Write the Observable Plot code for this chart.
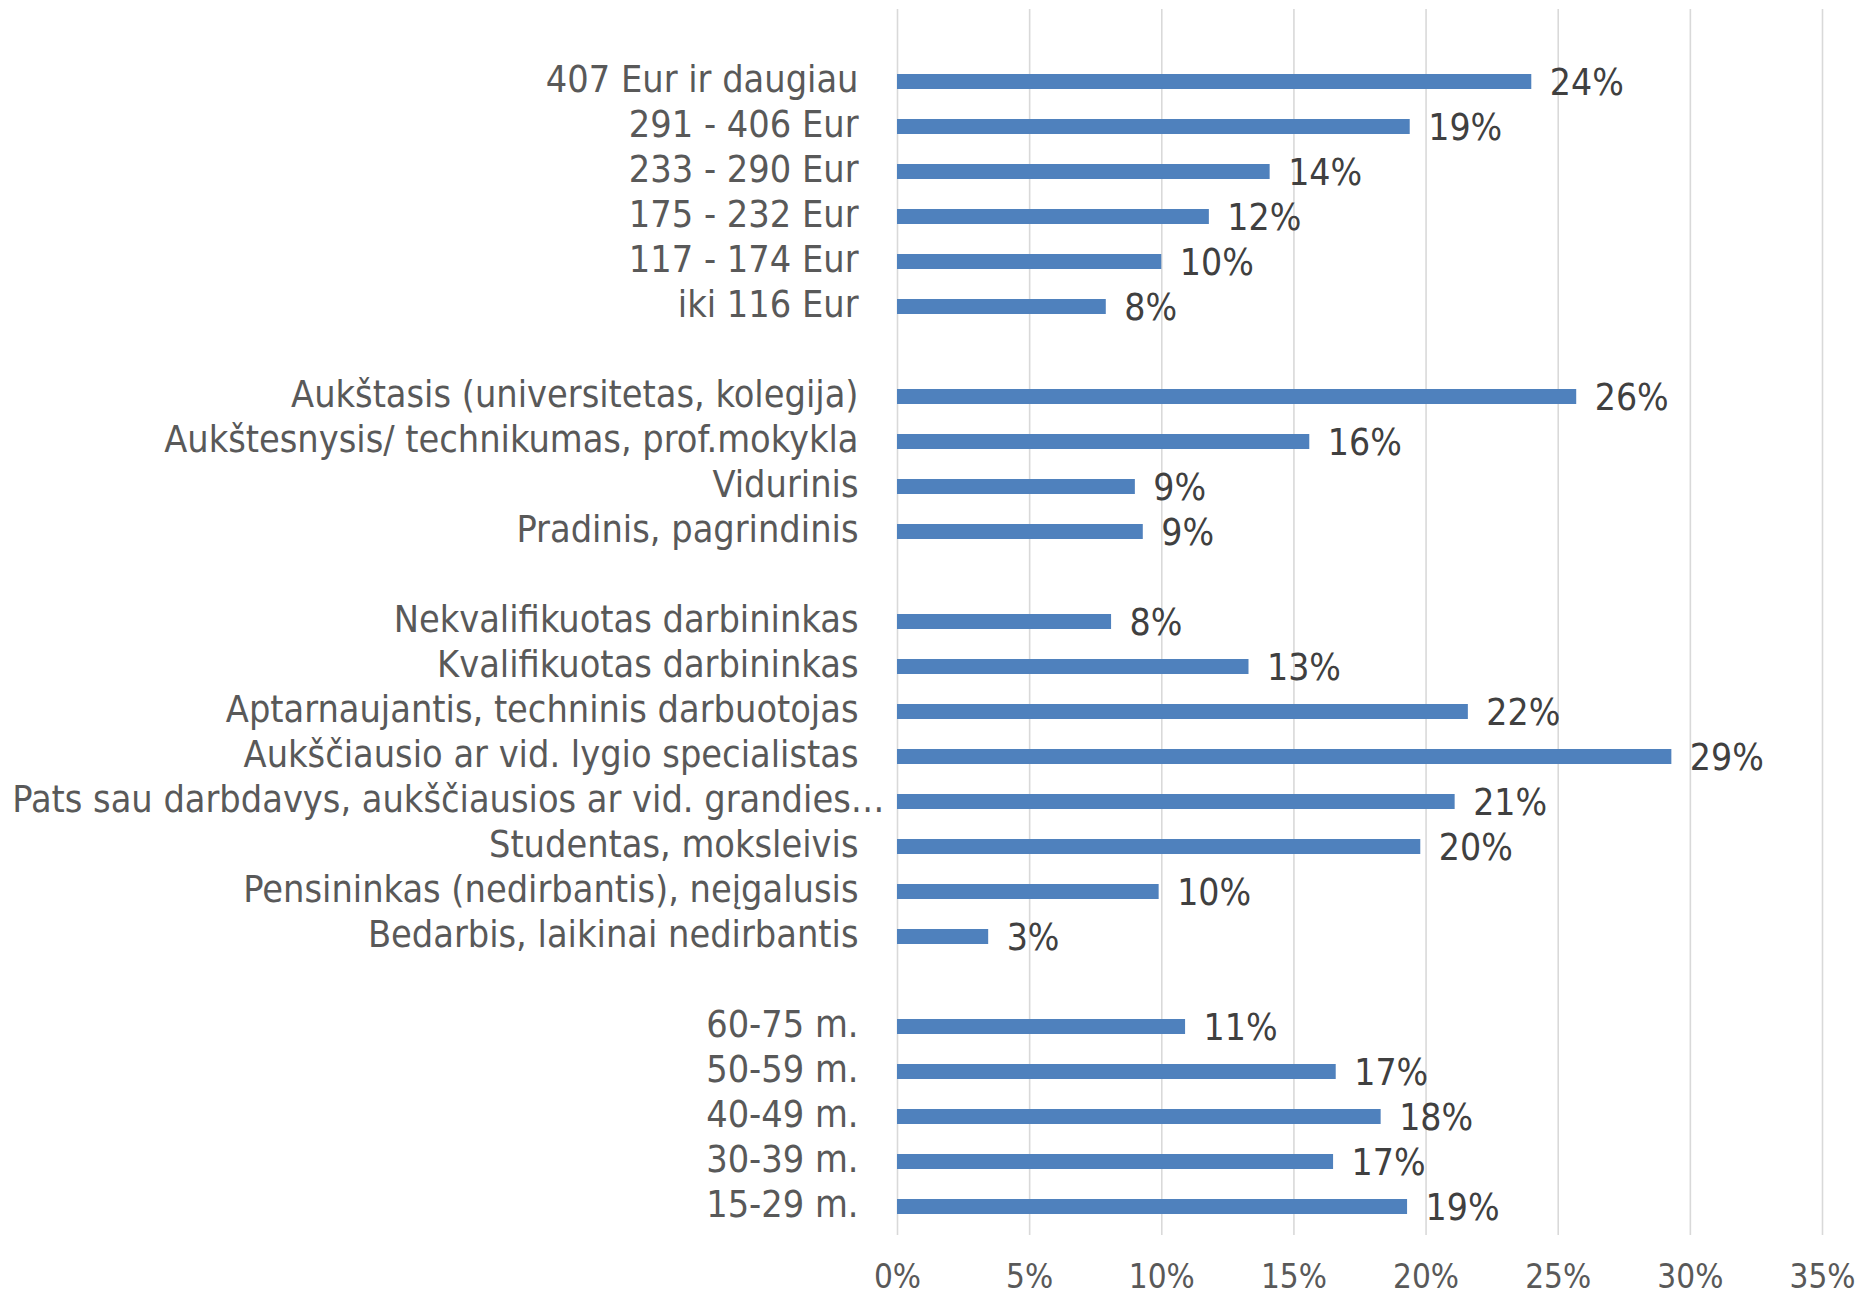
<!DOCTYPE html>
<html><head><meta charset="utf-8">
<script src="https://cdn.jsdelivr.net/npm/d3@7"></script>
<script src="https://cdn.jsdelivr.net/npm/@observablehq/plot@0.6"></script>
<style>body{margin:0;background:#fff}</style>
</head><body><div id="chart"></div>
<script>
const incomeLabels = ["407 Eur ir daugiau", "291 - 406 Eur", "233 - 290 Eur", "175 - 232 Eur", "117 - 174 Eur", "iki 116 Eur"];
const incomeValues = [24.0, 19.4, 14.1, 11.8, 10.0, 7.9];
const educationLabels = ["Aukštasis (universitetas, kolegija)", "Aukštesnysis/ technikumas, prof.mokykla", "Vidurinis", "Pradinis, pagrindinis"];
const educationValues = [25.7, 15.6, 9.0, 9.3];
const occupationLabels = ["Nekvalifikuotas darbininkas", "Kvalifikuotas darbininkas", "Aptarnaujantis, techninis darbuotojas", "Aukščiausio ar vid. lygio specialistas", "Pats sau darbdavys, aukščiausios ar vid. grandies…", "Studentas, moksleivis", "Pensininkas (nedirbantis), neįgalusis", "Bedarbis, laikinai nedirbantis"];
const occupationValues = [8.1, 13.3, 21.6, 29.3, 21.1, 19.8, 9.9, 3.45];
const ageLabels = ["60-75 m.", "50-59 m.", "40-49 m.", "30-39 m.", "15-29 m."];
const ageValues = [10.9, 16.6, 18.3, 16.5, 19.3];
const xTicks = [0, 5, 10, 15, 20, 25, 30, 35];

const groups = [
  [incomeLabels, incomeValues],
  [educationLabels, educationValues],
  [occupationLabels, occupationValues],
  [ageLabels, ageValues]
];
const rows = [];
const domain = [];
groups.forEach(([labels, values], g) => {
  domain.push("__gap" + g);
  labels.forEach((l, i) => { domain.push(l); rows.push({key: l, value: values[i]}); });
});
const longLabel = occupationLabels[4];
const normalLabels = domain.filter(d => !d.startsWith("__gap") && d !== longLabel);

const font = "'DejaVu Sans Condensed', 'DejaVu Sans', sans-serif";
const axisStyle = {tickSize: 0, dy: -2, fontSize: 37.5, fill: "#595959", label: null};
const chart = Plot.plot({
  width: 1863,
  height: 1298,
  marginLeft: 897,
  marginRight: 41,
  marginTop: 9,
  marginBottom: 63,
  style: {fontFamily: font, background: "#fff"},
  x: {domain: [0, 35], label: null},
  y: {domain, paddingInner: 0.66, paddingOuter: 0.33, label: null, axis: null},
  marks: [
    Plot.gridX(xTicks, {stroke: "#d9d9d9", strokeWidth: 1.6, strokeOpacity: 1}),
    Plot.barX(rows, {x: "value", y: "key", fill: "#4f81bd"}),
    Plot.text(rows, {x: "value", y: "key", text: d => Math.round(d.value) + "%", textAnchor: "start", dx: 18, dy: 1, fill: "#404040", fontSize: 37}),
    Plot.axisX(xTicks, {tickSize: 0, tickPadding: 29, tickFormat: d => d + "%", fontSize: 33, fill: "#595959", label: null}),
    Plot.axisY(normalLabels, {...axisStyle, tickPadding: 39}),
    Plot.axisY([longLabel], {...axisStyle, tickPadding: 13})
  ]
});
document.getElementById("chart").appendChild(chart);
</script>
</body></html>
